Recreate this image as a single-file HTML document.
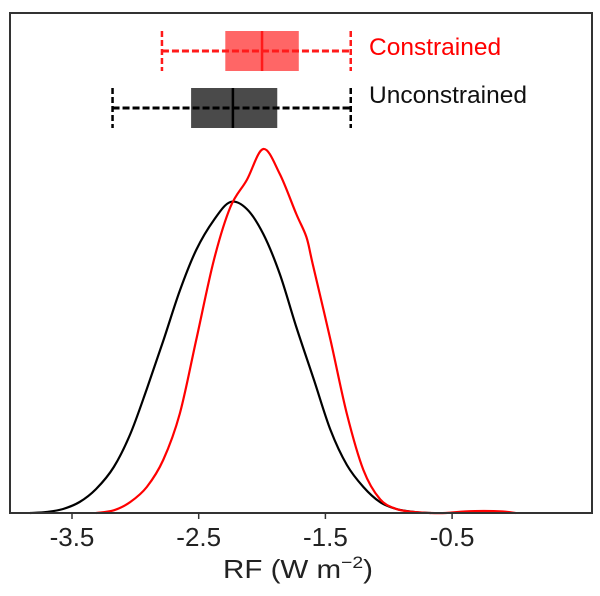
<!DOCTYPE html>
<html><head><meta charset="utf-8"><style>
body{margin:0;background:#fff;}
svg{display:block;font-family:"Liberation Sans",Arial,sans-serif;}
</style></head><body>
<svg id="chart" width="600" height="596" viewBox="0 0 600 596">
<g id="plot"></g>
</svg>
<script>
const blackX=[-3.83,-3.70,-3.57,-3.44,-3.31,-3.17,-3.04,-2.91,-2.78,-2.65,-2.52,-2.38,-2.25,-2.12,-1.99,-1.86,-1.73,-1.59,-1.46,-1.33,-1.20,-1.07,-0.94,-0.80,-0.67];
const blackY=[0,0.01,0.04,0.11,0.24,0.46,0.79,1.24,1.72,2.22,2.63,2.93,3.11,3.04,2.79,2.39,1.86,1.33,0.83,0.48,0.26,0.11,0.04,0.01,0];
const redX=[-3.31,-3.17,-3.04,-2.91,-2.78,-2.65,-2.52,-2.38,-2.25,-2.12,-1.99,-1.86,-1.73,-1.65,-1.60,-1.46,-1.33,-1.20,-1.07,-0.94,-0.80,-0.67,-0.55,-0.40,-0.25,-0.10,0.0];
const redY=[0,0.027,0.11,0.26,0.53,0.99,1.73,2.53,3.06,3.33,3.64,3.39,2.99,2.76,2.49,1.73,0.99,0.43,0.14,0.04,0.01,0,0,0.015,0.02,0.015,0];
const ticks=[-3.5,-2.5,-1.5,-0.5];
const tickLabels=["-3.5","-2.5","-1.5","-0.5"];
// box stats: [whiskerLo, q1, median, q3, whiskerHi]
const redBox=[-2.79,-2.29,-2.00,-1.71,-1.30];
const blackBox=[-3.18,-2.56,-2.23,-1.88,-1.30];

const L=10,R=592,T=13,B=513;
const sx=v=>72+(v+3.5)*126.7;
const sy=d=>B-d*100;
const NS="http://www.w3.org/2000/svg";
const g=document.getElementById('plot');
function mk(tag,attrs,parent){const e=document.createElementNS(NS,tag);for(const k in attrs)e.setAttribute(k,attrs[k]);(parent||g).appendChild(e);return e;}

function smoothPath(xs,ys){
  const p=xs.map((x,i)=>[sx(x),sy(ys[i])]);
  let d="M"+p[0][0].toFixed(1)+","+p[0][1].toFixed(1);
  for(let i=0;i<p.length-1;i++){
    const p0=p[Math.max(0,i-1)],p1=p[i],p2=p[i+1],p3=p[Math.min(p.length-1,i+2)];
    const c1=[p1[0]+(p2[0]-p0[0])/6,p1[1]+(p2[1]-p0[1])/6];
    const c2=[p2[0]-(p3[0]-p1[0])/6,p2[1]-(p3[1]-p1[1])/6];
    d+=" C"+c1[0].toFixed(1)+","+c1[1].toFixed(1)+" "+c2[0].toFixed(1)+","+c2[1].toFixed(1)+" "+p2[0].toFixed(1)+","+p2[1].toFixed(1);
  }
  return d;
}

const bc=mk('path',{d:smoothPath(blackX,blackY),fill:'none',stroke:'#000','stroke-width':2.2});


const rc=mk('path',{d:smoothPath(redX,redY),fill:'none',stroke:'#ff0000','stroke-width':2.2});



function boxplot(st,yc,h,col,fill,name){
  const grp=mk('g',{});
  
  
  mk('rect',{x:sx(st[1]),y:yc-h/2,width:sx(st[3])-sx(st[1]),height:h,fill:fill},grp);
  mk('line',{x1:sx(st[0]),x2:sx(st[4]),y1:yc,y2:yc,stroke:col,'stroke-width':3,'stroke-dasharray':'7,3'},grp);
  mk('line',{x1:sx(st[2]),x2:sx(st[2]),y1:yc-h/2,y2:yc+h/2,stroke:col,'stroke-width':2.5},grp);
  [st[0],st[4]].forEach(v=>mk('line',{x1:sx(v),x2:sx(v),y1:yc-h/2,y2:yc+h/2,stroke:col,'stroke-width':2.5,'stroke-dasharray':'6,3'},grp));
}
boxplot(redBox,51,40,'#ff1a1a','#ff6666','constrained-boxplot');
boxplot(blackBox,108,40,'#000','#4a4a4a','unconstrained-boxplot');

const l1=mk('text',{x:369,y:55,'font-size':24.5,fill:'#ff0000'});l1.textContent='Constrained';


const l2=mk('text',{x:369,y:103,'font-size':24.5,fill:'#111'});l2.textContent='Unconstrained';



const fr=mk('rect',{x:L,y:T,width:R-L,height:B-T,fill:'none',stroke:'#333','stroke-width':2});



ticks.forEach((t,i)=>{
  const tl=mk('line',{x1:sx(t),x2:sx(t),y1:B,y2:B+6,stroke:'#333','stroke-width':1.5});
  
  
  const tx=mk('text',{x:sx(t),y:546,'font-size':26,'text-anchor':'middle',fill:'#222'});
  tx.textContent=tickLabels[i];
  
  
});
const at=mk('text',{x:223,y:578,'font-size':26,fill:'#222',textLength:150,lengthAdjust:'spacingAndGlyphs'});
at.innerHTML='RF (W m<tspan font-size="17" dy="-10">−2</tspan><tspan dy="10">)</tspan>';


</script>
</body></html>
